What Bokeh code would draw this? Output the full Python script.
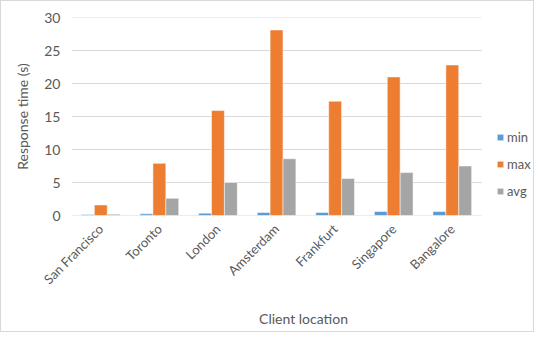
from bokeh.plotting import figure
from bokeh.models import ColumnDataSource, Range1d, Legend, LegendItem, FixedTicker
from bokeh.embed import file_html
from bokeh.resources import INLINE
import math

locations = ["San Francisco", "Toronto", "London", "Amsterdam", "Frankfurt", "Singapore", "Bangalore"]
min_vals = [0.15, 0.25, 0.35, 0.45, 0.45, 0.6, 0.6]
max_vals = [1.6, 7.9, 15.9, 28.1, 17.3, 21.0, 22.8]
avg_vals = [0.2, 2.6, 5.0, 8.6, 5.6, 6.5, 7.5]
y_ticks = [0, 5, 10, 15, 20, 25, 30]

n = len(locations)
xc = [i + 0.5 for i in range(n)]
w = 0.22
src = ColumnDataSource(dict(
    xmin=[x - w for x in xc], xmax=xc, xavg=[x + w for x in xc],
    mn=min_vals, mx=max_vals, av=avg_vals))

FONT = "Lato"
TXT = "#595959"

p = figure(width=534, height=332, x_range=Range1d(0, 7.92), y_range=Range1d(0, 30),
           output_backend="svg", toolbar_location=None,
           min_border_left=70, min_border_right=0, min_border_top=16, min_border_bottom=118,
           styles={"border": "1px solid #d9d9d9", "box-sizing": "border-box"})

# gridlines limited to the category area
p.segment(x0=[0] * len(y_ticks), x1=[n] * len(y_ticks), y0=y_ticks, y1=y_ticks,
          line_color="#D9D9D9", line_width=1)

r1 = p.vbar(x="xmin", top="mn", width=w, source=src,
            fill_color="#5B9BD5", line_color="white", line_width=0.5)
r2 = p.vbar(x="xmax", top="mx", width=w, source=src,
            fill_color="#ED7D31", line_color="white", line_width=0.5)
r3 = p.vbar(x="xavg", top="av", width=w, source=src,
            fill_color="#A5A5A5", line_color="white", line_width=0.5)

p.outline_line_color = None
p.xgrid.grid_line_color = None
p.ygrid.grid_line_color = None
p.yaxis.ticker = FixedTicker(ticks=y_ticks)
p.xaxis.ticker = FixedTicker(ticks=xc)
p.xaxis.major_label_overrides = {x: name for x, name in zip(xc, locations)}
p.yaxis.axis_line_color = None
p.yaxis.major_tick_line_color = None
p.yaxis.minor_tick_line_color = None
p.xaxis.axis_line_color = None
p.xaxis.major_tick_line_color = None
p.xaxis.minor_tick_line_color = None
p.xaxis.major_label_orientation = math.pi / 4

for ax in (p.xaxis, p.yaxis):
    ax.major_label_text_font = FONT
    ax.major_label_text_color = TXT
    ax.axis_label_text_font = FONT
    ax.axis_label_text_color = TXT
    ax.axis_label_text_font_style = "normal"
    ax.axis_label_text_font_size = "14px"
p.yaxis.major_label_text_font_size = "14px"
p.xaxis.major_label_text_font_size = "13px"
p.yaxis.axis_label = "Response time (s)"
p.xaxis.axis_label = "Client location"
p.yaxis.axis_label_standoff = 10
p.xaxis.axis_label_standoff = 14

legend = Legend(items=[LegendItem(label="min", renderers=[r1]),
                       LegendItem(label="max", renderers=[r2]),
                       LegendItem(label="avg", renderers=[r3])],
                location=(425, 16), border_line_color=None, background_fill_alpha=0,
                label_text_font=FONT, label_text_color=TXT, label_text_font_size="13px",
                glyph_width=8, glyph_height=8, label_standoff=3, spacing=11, padding=0, margin=0,
                label_width=20)
p.add_layout(legend)

open("out.html", "w").write(file_html(p, INLINE))
